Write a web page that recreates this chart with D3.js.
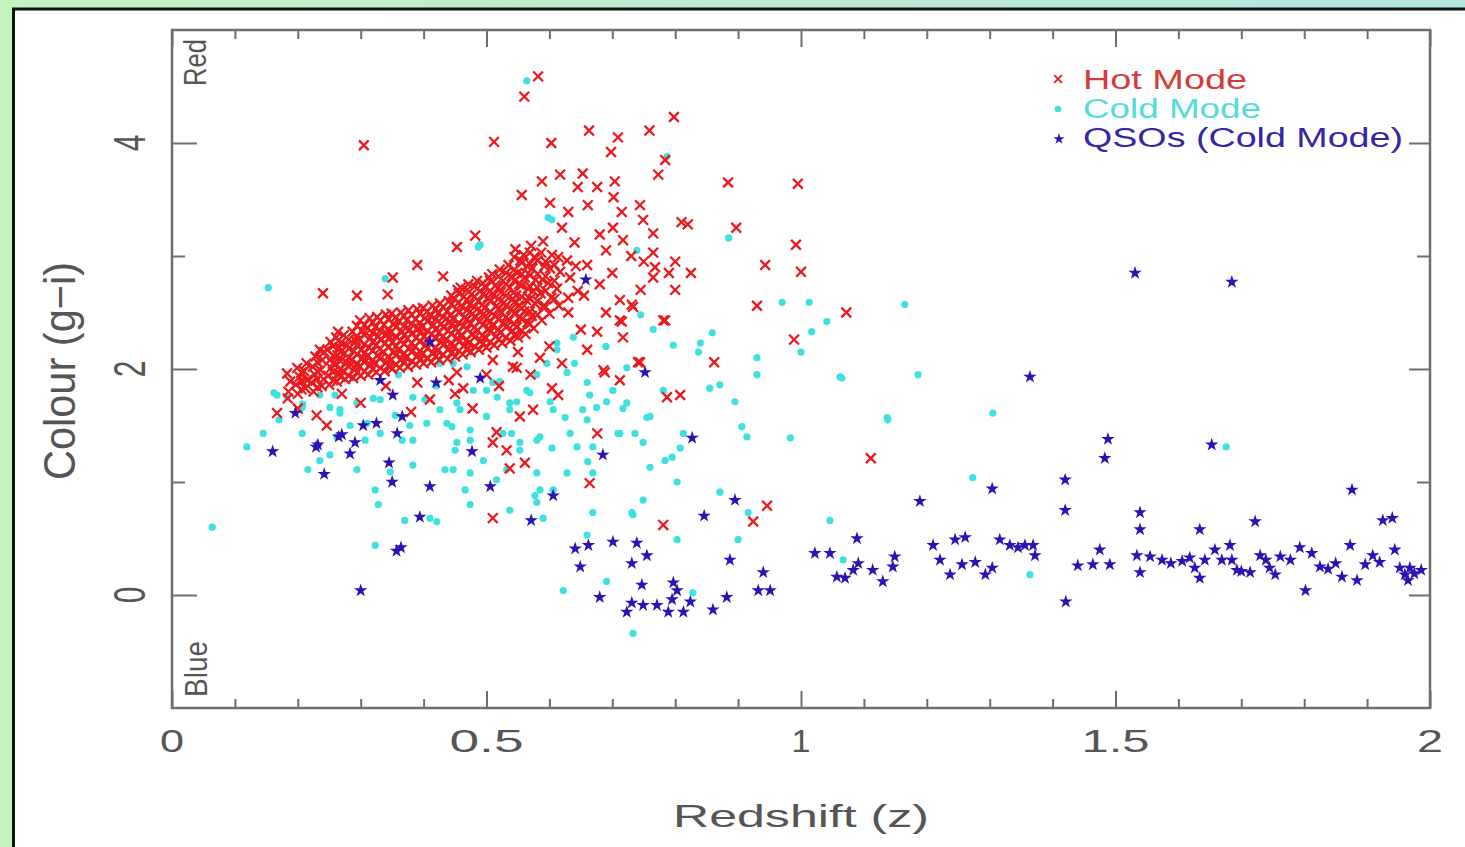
<!DOCTYPE html>
<html><head><meta charset="utf-8">
<script src="https://cdn.jsdelivr.net/npm/d3@7"></script>
<style>html,body{margin:0;padding:0;background:#fff;overflow:hidden}svg{display:block}</style>
</head><body><svg id="chart" width="1465" height="847"></svg>
<script>
// ---------------- DATA ----------------
const xTickValues = [0, 0.5, 1, 1.5, 2];
const xTickLabels = ["0", "0.5", "1", "1.5", "2"];
const yTickValues = [0, 2, 4];
const yTickLabels = ["0", "2", "4"];
const xTitle = "Redshift (z)";
const yTitle = "Colour (g\u2212i)";
const seriesNames = ["Hot Mode", "Cold Mode", "QSOs (Cold Mode)"];

// Hot Mode (red crosses): [redshift, colour]
const hotMode = [
[0.185,1.80],[0.188,1.89],[0.183,1.96],
[0.200,1.78],[0.197,1.86],[0.203,1.93],[0.199,2.01],
[0.212,1.83],[0.215,1.90],[0.210,1.98],[0.214,2.05],
[0.225,1.80],[0.222,1.88],[0.227,1.95],[0.224,2.02],[0.228,2.11],
[0.238,1.85],[0.241,1.91],[0.236,1.99],[0.239,2.08],[0.242,2.15],
[0.250,1.86],[0.248,1.94],[0.253,2.01],[0.251,2.08],[0.247,2.17],[0.252,2.24],
[0.262,1.89],[0.265,1.96],[0.260,2.04],[0.263,2.12],[0.266,2.19],[0.261,2.28],
[0.275,1.91],[0.272,1.98],[0.277,2.06],[0.274,2.14],[0.278,2.21],[0.273,2.30],
[0.288,1.92],[0.291,2.01],[0.286,2.08],[0.289,2.16],[0.292,2.25],[0.287,2.33],
[0.300,1.94],[0.298,2.02],[0.303,2.10],[0.301,2.17],[0.297,2.26],[0.302,2.34],[0.299,2.43],
[0.312,1.95],[0.315,2.04],[0.310,2.11],[0.313,2.19],[0.316,2.28],[0.311,2.36],[0.314,2.45],
[0.325,1.97],[0.322,2.05],[0.327,2.12],[0.324,2.21],[0.328,2.29],[0.323,2.37],[0.326,2.46],
[0.338,1.98],[0.341,2.06],[0.336,2.15],[0.339,2.23],[0.342,2.31],[0.337,2.39],[0.340,2.48],
[0.350,2.00],[0.348,2.08],[0.353,2.15],[0.351,2.24],[0.347,2.32],[0.352,2.40],[0.349,2.49],
[0.362,2.01],[0.365,2.09],[0.360,2.17],[0.363,2.25],[0.366,2.33],[0.361,2.42],[0.364,2.50],
[0.375,2.02],[0.372,2.10],[0.377,2.18],[0.374,2.27],[0.378,2.35],[0.373,2.43],[0.376,2.52],
[0.388,2.04],[0.391,2.12],[0.386,2.20],[0.389,2.28],[0.392,2.36],[0.387,2.44],[0.390,2.53],
[0.400,2.05],[0.398,2.13],[0.403,2.21],[0.401,2.29],[0.397,2.37],[0.402,2.45],[0.399,2.54],
[0.412,2.06],[0.415,2.14],[0.410,2.23],[0.413,2.31],[0.416,2.39],[0.411,2.47],[0.414,2.56],
[0.425,2.08],[0.422,2.16],[0.427,2.24],[0.424,2.32],[0.428,2.40],[0.423,2.49],[0.426,2.58],
[0.438,2.09],[0.441,2.18],[0.436,2.26],[0.439,2.34],[0.442,2.42],[0.437,2.51],[0.440,2.60],
[0.450,2.11],[0.448,2.19],[0.453,2.27],[0.451,2.36],[0.447,2.44],[0.452,2.53],[0.449,2.62],[0.454,2.70],
[0.462,2.13],[0.465,2.21],[0.460,2.29],[0.463,2.38],[0.466,2.46],[0.461,2.55],[0.464,2.64],[0.459,2.72],
[0.475,2.15],[0.472,2.23],[0.477,2.31],[0.474,2.40],[0.478,2.49],[0.473,2.57],[0.476,2.66],[0.471,2.75],
[0.488,2.17],[0.491,2.25],[0.486,2.34],[0.489,2.42],[0.492,2.51],[0.487,2.60],[0.490,2.69],[0.485,2.78],
[0.500,2.19],[0.498,2.27],[0.503,2.36],[0.501,2.45],[0.497,2.54],[0.502,2.63],[0.499,2.72],[0.504,2.81],
[0.512,2.21],[0.515,2.29],[0.510,2.38],[0.513,2.47],[0.516,2.56],[0.511,2.65],[0.514,2.74],[0.509,2.84],
[0.525,2.23],[0.522,2.32],[0.527,2.41],[0.524,2.50],[0.528,2.59],[0.523,2.68],[0.526,2.78],[0.521,2.88],
[0.538,2.25],[0.541,2.34],[0.536,2.43],[0.539,2.53],[0.542,2.62],[0.537,2.72],[0.540,2.82],[0.535,2.92],
[0.550,2.28],[0.548,2.37],[0.553,2.46],[0.551,2.56],[0.547,2.65],[0.552,2.75],[0.549,2.85],[0.554,2.96],[0.546,3.06],
[0.562,2.31],[0.565,2.41],[0.560,2.51],[0.563,2.61],[0.566,2.71],[0.561,2.81],[0.564,2.91],[0.559,3.01],
[0.575,2.36],[0.572,2.47],[0.577,2.58],[0.574,2.69],[0.578,2.79],[0.573,2.89],[0.576,2.99],[0.571,3.09],
[0.588,2.43],[0.591,2.56],[0.586,2.67],[0.589,2.79],[0.592,2.91],[0.587,3.03],[0.590,3.13],
[0.600,2.49],[0.603,2.63],[0.598,2.76],[0.601,2.89],[0.604,3.01],
[0.615,2.56],[0.612,2.71],[0.617,2.86],[0.614,2.99],
[0.630,2.63],[0.633,2.81],[0.628,2.96],
[0.645,2.69],[0.642,2.91],
[0.206,1.82],[0.206,1.89],[0.206,1.97],
[0.231,1.84],[0.231,1.91],[0.231,1.98],[0.231,2.06],
[0.256,1.90],[0.256,1.97],[0.256,2.05],[0.256,2.12],[0.256,2.20],
[0.268,1.93],[0.268,2.00],[0.268,2.07],[0.268,2.15],[0.268,2.23],
[0.281,1.94],[0.281,2.02],[0.281,2.10],[0.281,2.18],[0.281,2.26],
[0.294,1.97],[0.294,2.05],[0.294,2.13],[0.294,2.21],[0.294,2.29],[0.294,2.38],
[0.306,1.98],[0.306,2.06],[0.306,2.14],[0.306,2.22],[0.306,2.30],[0.306,2.39],
[0.319,2.00],[0.319,2.08],[0.319,2.16],[0.319,2.24],[0.319,2.32],[0.319,2.41],
[0.331,2.01],[0.331,2.09],[0.331,2.18],[0.331,2.26],[0.331,2.34],[0.331,2.43],
[0.344,2.03],[0.344,2.11],[0.344,2.19],[0.344,2.27],[0.344,2.35],[0.344,2.44],
[0.356,2.04],[0.356,2.12],[0.356,2.20],[0.356,2.29],[0.356,2.37],[0.356,2.46],
[0.369,2.06],[0.369,2.14],[0.369,2.22],[0.369,2.30],[0.369,2.38],[0.369,2.47],
[0.381,2.07],[0.381,2.15],[0.381,2.23],[0.381,2.31],[0.381,2.40],[0.381,2.48],
[0.394,2.08],[0.394,2.16],[0.394,2.24],[0.394,2.32],[0.394,2.41],[0.394,2.49],
[0.406,2.10],[0.406,2.18],[0.406,2.26],[0.406,2.34],[0.406,2.42],[0.406,2.51],
[0.419,2.11],[0.419,2.19],[0.419,2.27],[0.419,2.35],[0.419,2.44],[0.419,2.53],
[0.431,2.13],[0.431,2.21],[0.431,2.29],[0.431,2.37],[0.431,2.46],[0.431,2.55],
[0.444,2.14],[0.444,2.23],[0.444,2.31],[0.444,2.39],[0.444,2.48],[0.444,2.57],[0.444,2.65],
[0.456,2.16],[0.456,2.24],[0.456,2.33],[0.456,2.41],[0.456,2.50],[0.456,2.59],[0.456,2.67],
[0.469,2.18],[0.469,2.26],[0.469,2.35],[0.469,2.44],[0.469,2.52],[0.469,2.61],[0.469,2.70],
[0.481,2.20],[0.481,2.28],[0.481,2.37],[0.481,2.46],[0.481,2.55],[0.481,2.64],[0.481,2.73],
[0.494,2.22],[0.494,2.30],[0.494,2.39],[0.494,2.48],[0.494,2.57],[0.494,2.66],[0.494,2.76],
[0.506,2.24],[0.506,2.33],[0.506,2.42],[0.506,2.51],[0.506,2.60],[0.506,2.69],[0.506,2.78],
[0.519,2.26],[0.519,2.35],[0.519,2.44],[0.519,2.53],[0.519,2.62],[0.519,2.72],[0.519,2.82],
[0.531,2.28],[0.531,2.37],[0.531,2.46],[0.531,2.56],[0.531,2.65],[0.531,2.75],[0.531,2.85],
[0.544,2.30],[0.544,2.40],[0.544,2.49],[0.544,2.59],[0.544,2.68],[0.544,2.78],[0.544,2.88],[0.544,2.99],
[0.556,2.34],[0.556,2.44],[0.556,2.54],[0.556,2.64],[0.556,2.74],[0.556,2.84],[0.556,2.94],
[0.569,2.40],[0.569,2.51],[0.569,2.62],[0.569,2.73],[0.569,2.83],[0.569,2.93],[0.569,3.03],
[0.581,2.48],[0.581,2.60],[0.581,2.72],[0.581,2.84],[0.581,2.96],
[0.594,2.55],[0.594,2.69],[0.594,2.82],[0.594,2.95],
[0.608,2.62],[0.608,2.78],[0.608,2.92],
[0.305,3.98],[0.512,4.01],[0.582,4.59],[0.560,4.41],[0.603,4.00],[0.663,4.11],[0.698,3.92],[0.709,4.05],
[0.759,4.11],[0.798,4.23],[0.784,3.85],[0.773,3.72],[0.884,3.65],[0.995,3.64],[0.897,3.25],[0.943,2.92],
[0.992,3.10],[1.000,2.86],[0.930,2.56],[1.072,2.50],[0.989,2.26],[1.111,1.21],[0.862,2.06],[0.946,0.79],
[0.924,0.65],[0.781,0.62],[0.510,0.68],
[0.240,2.67],[0.294,2.65],[0.343,2.66],[0.351,2.81],[0.390,2.92],[0.453,3.08],[0.482,3.18],[0.431,2.82],
[0.556,3.54],[0.588,3.66],[0.617,3.72],[0.653,3.73],[0.645,3.61],[0.676,3.61],[0.704,3.66],[0.702,3.52],
[0.601,3.47],[0.630,3.39],[0.661,3.45],[0.715,3.39],[0.744,3.45],[0.749,3.32],[0.765,3.20],[0.701,3.25],
[0.680,3.19],[0.717,3.14],[0.765,3.03],[0.768,2.90],[0.765,2.81],[0.712,2.61],[0.733,2.55],[0.712,2.43],
[0.717,2.28],[0.781,2.43],[0.660,2.17],[0.676,2.33],[0.686,1.99],[0.712,1.90],[0.741,2.06],[0.787,1.75],
[0.676,1.43],[0.574,1.64],[0.542,2.02],[0.510,2.08],[0.469,2.17],[0.510,1.35],[0.553,1.58],[0.410,1.73],
[0.390,1.88],[0.347,2.02],[0.167,1.61],[0.230,1.59],[0.246,1.50],[0.235,2.17],[0.264,2.33],[0.215,1.90],
[0.184,1.74],[0.478,1.65],[0.614,1.77],
[0.715,2.42],[0.731,2.57],[0.784,2.43],[0.744,2.06],[0.688,1.97],[0.808,1.77],[0.548,2.01],[0.604,1.83],
[0.516,1.44],[0.532,1.28],[0.561,1.17],[0.537,1.12],[0.664,0.99],[0.453,1.97],[0.463,1.83],
[0.730,3.00],[0.750,2.95],[0.790,2.85],[0.800,2.95],[0.700,2.85],[0.680,2.75],[0.660,2.92],[0.640,3.12],
[0.620,3.25],[0.690,3.05],[0.655,2.65],[0.745,2.70],[0.800,2.70],[0.825,2.85],[0.810,3.30],[0.820,3.28],
[0.690,2.50],[0.630,2.50],[0.650,2.35],[0.600,2.20],[0.585,2.10],[0.620,2.05],[0.500,1.95],[0.440,1.90],
[0.450,1.78],[0.380,1.62],[0.340,1.85],[0.300,1.70],[0.270,1.78],[0.200,1.65],[0.520,1.85],[0.570,1.95],
[0.550,2.15]
];

// Cold Mode (cyan dots): [redshift, colour]
const coldMode = [
[0.064,0.60],[0.153,2.72],[0.119,1.31],[0.145,1.43],[0.162,1.79],[0.167,1.77],[0.207,1.66],[0.207,1.43],
[0.339,2.80],[0.487,3.08],[0.604,3.32],[0.739,3.05],[0.787,3.88],[0.564,4.55],[0.885,3.16],
[0.251,1.66],[0.267,1.61],[0.294,1.70],[0.320,1.74],[0.383,1.75],[0.383,1.37],[0.405,1.52],[0.426,2.05],
[0.447,2.05],[0.469,2.02],[0.479,1.81],[0.510,1.88],[0.517,1.75],[0.537,1.70],[0.564,1.81],[0.596,2.05],
[0.612,2.23],[0.638,2.28],[0.660,1.88],[0.701,1.81],[0.723,1.70],[0.760,1.58],[0.781,1.81],[0.633,1.43],
[0.606,1.64],[0.660,1.55],[0.712,1.43],[0.749,1.35],[0.500,1.58],[0.453,1.70],[0.437,1.52],[0.366,1.37],
[0.331,1.43],[0.310,1.52],[0.262,1.40],[0.474,1.46],[0.526,1.43],[0.553,1.35],[0.585,1.40],
[0.970,2.59],[1.017,2.33],[1.000,2.15],[1.065,1.92],[1.138,1.55],[0.983,1.39],[0.859,2.32],[0.840,2.23],
[0.837,2.15],[0.797,2.21],[0.930,2.10],[0.930,1.95],[0.855,1.83],[0.871,1.86],[0.895,1.71],[0.906,1.49],
[0.914,1.40],[0.755,1.57],[0.717,1.65],[0.723,2.01],[0.664,1.77],[0.691,1.71],[0.675,1.66],[0.736,1.43],
[0.709,1.43],[0.813,1.43],[0.808,1.30],[0.795,1.22],[0.784,1.19],[0.760,1.13],[0.803,1.00],[0.669,1.31],
[0.661,1.18],[0.669,1.08],[0.644,1.31],[0.604,1.30],[0.628,1.08],[0.580,1.37],[0.553,1.28],[0.580,0.82],
[0.537,0.75],[0.590,0.68],[0.669,0.73],[0.731,0.73],[0.749,0.84],[0.733,0.71],[0.803,0.49],[0.871,0.91],
[0.916,0.73],[0.900,0.49],[1.046,0.66],[1.067,0.31],[0.622,0.04],[0.691,0.12],[0.733,-0.34],[0.828,0.02],
[0.660,0.53],[0.453,1.35],[0.447,1.11],[0.474,1.08],[0.495,1.19],[0.458,1.64],[0.500,1.81],[0.521,1.89],
[0.548,1.71],[0.569,1.79],[0.601,1.71],[0.625,1.57],[0.653,1.64],[0.628,1.97],[0.612,2.17],[0.580,1.95],
[0.537,1.64],[0.540,1.43],[0.580,1.08],[0.516,1.02],[0.445,1.49],[0.577,0.88],[0.606,0.93],
[1.013,2.59],[1.041,2.42],[1.165,2.57],[1.062,1.93],[1.186,1.95],[1.137,1.57],[1.305,1.61],[1.273,1.04],
[1.364,0.18],[1.676,1.31],
[0.183,1.75],[0.208,1.69],[0.170,1.55],[0.216,1.11],[0.235,1.19],[0.251,1.24],[0.294,1.11],[0.323,0.93],
[0.328,0.80],[0.347,1.09],[0.323,0.44],[0.383,1.15],[0.370,0.66],[0.410,0.68],[0.421,0.65],[0.434,1.11],
[0.450,1.28],[0.474,1.37],[0.466,0.93],[0.474,0.80],[0.532,1.11],[0.585,0.93],[0.307,1.37],[0.283,1.50],
[0.267,1.64],[0.235,1.77],[0.259,1.77],[0.331,1.73],[0.355,1.59],[0.378,1.50],[0.402,1.73],[0.426,1.64],
[0.490,3.10],[0.598,3.34],[0.745,2.48],[0.765,2.35],[0.690,2.20],[0.640,2.05],[0.360,1.95],[0.420,1.85]
];

// QSOs (Cold Mode) (blue stars): [redshift, colour]
const qsos = [
[0.160,1.27],[0.196,1.61],[0.229,1.31],[0.242,1.07],[0.265,1.40],[0.283,1.25],[0.300,0.04],[0.345,1.17],
[0.350,1.00],[0.364,0.42],[0.357,0.39],[0.410,0.96],[0.394,0.69],[0.506,0.96],[0.571,0.66],[0.752,1.97],
[0.827,1.39],[0.846,0.70],[0.895,0.84],[0.658,2.79],[0.410,2.24],[0.331,1.90],[0.351,1.77],[0.420,1.88],
[0.490,1.92],[0.304,1.50],[0.325,1.52],[0.366,1.58],[0.270,1.42],[0.291,1.35],[0.232,1.33],[0.358,1.43],
[0.477,1.27],[0.685,1.24],[0.606,0.88],[0.641,0.41],[0.662,0.44],[0.649,0.25],[0.701,0.47],[0.739,0.46],
[0.731,0.28],[0.755,0.35],[0.747,0.09],[0.680,-0.02],[0.723,-0.15],[0.731,-0.07],[0.749,-0.09],[0.771,-0.09],
[0.789,-0.15],[0.797,0.11],[0.803,0.04],[0.795,-0.04],[0.813,-0.15],[0.824,-0.06],[0.860,-0.13],[0.882,-0.02],
[0.887,0.31],[0.940,0.20],[0.932,0.04],[0.951,0.04],[1.022,0.37],[1.046,0.37],[1.089,0.50],[1.057,0.16],
[1.070,0.15],[1.083,0.22],[1.091,0.28],[1.114,0.22],[1.130,0.12],[1.146,0.25],[1.149,0.34],
[1.189,0.83],[1.210,0.44],[1.245,0.49],[1.261,0.51],[1.221,0.31],[1.237,0.18],[1.256,0.27],[1.277,0.29],
[1.293,0.18],[1.304,0.24],[1.304,0.94],[1.316,0.49],[1.332,0.44],[1.345,0.42],[1.356,0.44],[1.369,0.44],
[1.372,0.35],[1.364,1.93],[1.420,1.02],[1.420,0.75],[1.421,-0.06],[1.440,0.26],[1.464,0.27],[1.475,0.40],
[1.483,1.21],[1.488,1.38],[1.491,0.27],[1.531,2.85],[1.539,0.73],[1.539,0.58],[1.534,0.35],[1.539,0.20],
[1.555,0.34],[1.574,0.31],[1.618,0.33],[1.626,0.24],[1.634,0.15],[1.642,0.31],[1.634,0.58],[1.653,1.33],
[1.658,0.40],[1.669,0.31],[1.685,2.77],[1.682,0.44],[1.693,0.22],[1.685,0.31],[1.714,0.20],[1.722,0.65],
[1.730,0.35],[1.739,0.31],[1.754,0.18],[1.762,0.34],[1.778,0.31],[1.793,0.42],[1.802,0.04],[1.812,0.37],
[1.825,0.25],[1.860,0.16],[1.873,0.44],[1.876,0.93],[1.884,0.13],[1.897,0.27],[1.909,0.35],[1.925,0.66],
[1.940,0.68],[1.944,0.40],[1.952,0.24],[1.960,0.18],[1.968,0.24],[1.975,0.19],[1.965,0.13],
[1.588,0.28],[1.606,0.30],[1.700,0.21],[1.745,0.24],[1.838,0.23],[1.850,0.28],[1.920,0.29],[1.986,0.22]
];

// ---------------- DRAWING ----------------
const svg = d3.select("#chart");
const W = 1465, H = 847;
const plot = {left: 172, right: 1430, top: 30, bottom: 708};
const x = d3.scaleLinear().domain([0, 2]).range([plot.left, plot.right]);
const y = d3.scaleLinear().domain([-1, 5]).range([plot.bottom, plot.top]);

const colors = {hot: "#ea1a1e", cold: "#3fe0e0", qso: "#2a12b4",
  hotText: "#d43c3c", coldText: "#56dcdc", qsoText: "#3526a4", axis: "#6e6e6e", text: "#555"};
const font = "'Liberation Sans', Arial, Helvetica, sans-serif";

// background / frame
const defs = svg.append("defs");
const grad = defs.append("linearGradient").attr("id", "bg").attr("x1", 0).attr("x2", 1).attr("y1", 0).attr("y2", 0);
grad.append("stop").attr("offset", "0%").attr("stop-color", "#c6f2c0");
grad.append("stop").attr("offset", "100%").attr("stop-color", "#b4e6e2");
svg.append("rect").attr("width", W).attr("height", H).attr("fill", "url(#bg)");
svg.append("rect").attr("x", 14).attr("y", 9).attr("width", W - 14).attr("height", H - 9).attr("fill", "#fff");
svg.append("line").attr("x1", 13.5).attr("x2", 13.5).attr("y1", 8).attr("y2", H).attr("stroke", "#111").attr("stroke-width", 3);
svg.append("line").attr("x1", 12).attr("x2", W).attr("y1", 9).attr("y2", 9).attr("stroke", "#111").attr("stroke-width", 3);

// axes (ticks inward)
const xMinor = d3.range(1, 20).map(i => i / 10).filter(v => Math.abs(v * 2 - Math.round(v * 2)) > 1e-9);
const yMinor = [1, 3];
const gAx = svg.append("g").attr("class", "axes");
function styleAxis(g) {
  g.select(".domain").remove();
  g.selectAll(".tick line").attr("stroke", colors.axis).attr("stroke-width", 2);
  g.selectAll(".tick text").remove();
}
gAx.append("g").attr("transform", `translate(0,${plot.bottom})`).call(d3.axisBottom(x).tickValues(xMinor).tickSize(-9).tickFormat("")).call(styleAxis);
gAx.append("g").attr("transform", `translate(0,${plot.bottom})`).call(d3.axisBottom(x).tickValues(xTickValues).tickSize(-17).tickFormat("")).call(styleAxis);
gAx.append("g").attr("transform", `translate(0,${plot.top})`).call(d3.axisTop(x).tickValues(xMinor).tickSize(-9).tickFormat("")).call(styleAxis);
gAx.append("g").attr("transform", `translate(0,${plot.top})`).call(d3.axisTop(x).tickValues(xTickValues).tickSize(-17).tickFormat("")).call(styleAxis);
gAx.append("g").attr("transform", `translate(${plot.left},0)`).call(d3.axisLeft(y).tickValues(yMinor).tickSize(-13).tickFormat("")).call(styleAxis);
gAx.append("g").attr("transform", `translate(${plot.left},0)`).call(d3.axisLeft(y).tickValues(yTickValues).tickSize(-25).tickFormat("")).call(styleAxis);
gAx.append("g").attr("transform", `translate(${plot.right},0)`).call(d3.axisRight(y).tickValues(yMinor).tickSize(-13).tickFormat("")).call(styleAxis);
gAx.append("g").attr("transform", `translate(${plot.right},0)`).call(d3.axisRight(y).tickValues(yTickValues).tickSize(-21).tickFormat("")).call(styleAxis);
svg.append("rect").attr("x", plot.left).attr("y", plot.top).attr("width", plot.right - plot.left).attr("height", plot.bottom - plot.top)
  .attr("fill", "none").attr("stroke", colors.axis).attr("stroke-width", 2.5);

// tick labels
const xLabelLen = {"0": 24, "0.5": 74, "1": 19, "1.5": 68, "2": 26};
svg.append("g").selectAll("text").data(xTickValues).join("text")
  .attr("x", d => x(d)).attr("y", 752)
  .attr("text-anchor", "middle").attr("font-family", font).attr("font-size", 31).attr("fill", colors.text)
  .attr("textLength", (d, i) => xLabelLen[xTickLabels[i]]).attr("lengthAdjust", "spacingAndGlyphs")
  .text((d, i) => xTickLabels[i]);
svg.append("g").selectAll("text").data(yTickValues).join("text")
  .attr("transform", d => `translate(145,${y(d)}) scale(1.45,1) rotate(-90)`)
  .attr("text-anchor", "middle").attr("font-family", font).attr("font-size", 30).attr("fill", colors.text)
  .text((d, i) => yTickLabels[i]);

// axis titles
svg.append("text").attr("x", 801).attr("y", 827).attr("text-anchor", "middle")
  .attr("font-family", font).attr("font-size", 32).attr("fill", colors.text)
  .attr("textLength", 256).attr("lengthAdjust", "spacingAndGlyphs").text(xTitle);
svg.append("text").attr("transform", "translate(75,371) scale(1.45,1) rotate(-90)").attr("text-anchor", "middle")
  .attr("font-family", font).attr("font-size", 30).attr("fill", colors.text)
  .attr("textLength", 218).attr("lengthAdjust", "spacingAndGlyphs").text(yTitle);
svg.append("text").attr("transform", "translate(206,86) scale(1.4,1) rotate(-90)").attr("text-anchor", "start")
  .attr("font-family", font).attr("font-size", 23).attr("fill", colors.text)
  .attr("textLength", 47).attr("lengthAdjust", "spacingAndGlyphs").text("Red");
svg.append("text").attr("transform", "translate(207,697) scale(1.4,1) rotate(-90)").attr("text-anchor", "start")
  .attr("font-family", font).attr("font-size", 23).attr("fill", colors.text)
  .attr("textLength", 56).attr("lengthAdjust", "spacingAndGlyphs").text("Blue");

// markers
const gPts = svg.append("g");
const clip = defs.append("clipPath").attr("id", "clip").append("rect")
  .attr("x", plot.left).attr("y", plot.top).attr("width", plot.right - plot.left).attr("height", plot.bottom - plot.top);
gPts.attr("clip-path", "url(#clip)");
const crossPath = d3.symbol(d3.symbolX, 64)();
const starPath = d3.symbol(d3.symbolStar, 56)();

gPts.append("g").selectAll("circle").data(coldMode).join("circle")
  .attr("cx", d => x(d[0])).attr("cy", d => y(d[1])).attr("r", 3.6).attr("fill", colors.cold);
gPts.append("g").selectAll("path").data(hotMode).join("path")
  .attr("transform", d => `translate(${x(d[0])},${y(d[1])})`).attr("d", crossPath)
  .attr("fill", "none").attr("stroke", colors.hot).attr("stroke-width", 2.3);
gPts.append("g").selectAll("path").data(qsos).join("path")
  .attr("transform", d => `translate(${x(d[0])},${y(d[1])})`).attr("d", starPath)
  .attr("fill", colors.qso);

// legend
const legend = svg.append("g");
const legendRows = [
  {name: seriesNames[0], y: 89, my: 79, len: 164, color: colors.hotText, kind: "x"},
  {name: seriesNames[1], y: 118, my: 109, len: 178, color: colors.coldText, kind: "o"},
  {name: seriesNames[2], y: 147, my: 139, len: 320, color: colors.qsoText, kind: "s"}
];
legendRows.forEach(r => {
  if (r.kind === "x") legend.append("path").attr("transform", `translate(1058,${r.my})`).attr("d", d3.symbol(d3.symbolX, 40)())
    .attr("fill", "none").attr("stroke", colors.hot).attr("stroke-width", 1.8);
  if (r.kind === "o") legend.append("circle").attr("cx", 1058).attr("cy", r.my).attr("r", 3.3).attr("fill", colors.cold);
  if (r.kind === "s") legend.append("path").attr("transform", `translate(1059,${r.my})`).attr("d", d3.symbol(d3.symbolStar, 40)()).attr("fill", colors.qso);
  legend.append("text").attr("x", 1083).attr("y", r.y).attr("font-family", font).attr("font-size", 27)
    .attr("fill", r.color).attr("textLength", r.len).attr("lengthAdjust", "spacingAndGlyphs").text(r.name);
});
</script></body></html>
